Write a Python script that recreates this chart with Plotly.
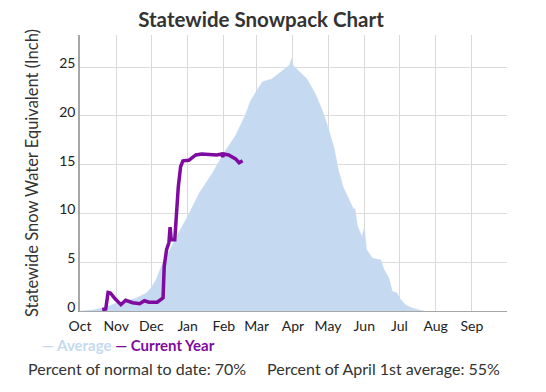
import plotly.graph_objects as go

# ---- data ----
avg_dates = ["2022-10-01", "2022-10-09", "2022-10-12", "2022-10-22", "2022-11-01", "2022-11-10",
             "2022-11-18", "2022-11-27", "2022-12-01", "2022-12-05", "2022-12-11", "2022-12-17",
             "2022-12-22", "2023-01-01", "2023-01-11", "2023-01-22", "2023-02-01", "2023-02-11",
             "2023-02-19", "2023-02-24", "2023-03-01", "2023-03-06", "2023-03-14", "2023-03-22",
             "2023-03-29", "2023-03-31", "2023-04-01", "2023-04-06", "2023-04-13", "2023-04-20",
             "2023-04-26", "2023-04-30", "2023-05-06", "2023-05-10", "2023-05-14", "2023-05-19",
             "2023-05-23", "2023-05-24", "2023-05-26", "2023-05-30", "2023-06-01", "2023-06-03",
             "2023-06-08", "2023-06-15", "2023-06-18", "2023-06-22", "2023-06-25", "2023-06-29",
             "2023-07-01", "2023-07-06", "2023-07-12", "2023-07-18", "2023-07-22"]
avg_values = [0, 0.05, 0.1, 0.35, 0.8, 1.05,
              1.3, 1.85, 2.4, 3.2, 5.0, 6.3,
              7.5, 9.7, 12.1, 14.1, 16.2, 18.0,
              20.0, 21.6, 22.6, 23.5, 23.8, 24.5,
              25.2, 25.9, 25.2, 24.6, 23.8, 22.3,
              20.6, 19.2, 16.8, 14.4, 12.7, 11.4,
              10.4, 10.5, 8.8, 7.6, 8.5, 6.3,
              5.4, 5.25, 4.2, 3.4, 2.0, 1.85,
              1.35, 0.65, 0.3, 0.1, 0]

cur_dates = ["2022-10-20", "2022-10-23", "2022-10-25", "2022-10-27", "2022-10-31", "2022-11-05",
             "2022-11-09", "2022-11-15", "2022-11-21", "2022-11-25", "2022-11-29", "2022-12-06",
             "2022-12-11", "2022-12-12", "2022-12-14", "2022-12-16", "2022-12-17", "2022-12-18",
             "2022-12-21", "2022-12-22", "2022-12-24", "2022-12-26", "2022-12-28", "2023-01-02",
             "2023-01-08", "2023-01-13", "2023-01-19", "2023-01-26", "2023-01-30", "2023-01-31",
             "2023-02-01", "2023-02-05", "2023-02-11", "2023-02-14", "2023-02-17"]
cur_values = [0.15, 0.2, 1.9, 1.85, 1.25, 0.65,
              1.1, 0.85, 0.75, 1.05, 0.9, 0.9,
              1.35, 4.6, 6.3, 7.0, 8.6, 7.3,
              7.3, 9.3, 12.7, 14.8, 15.4, 15.45,
              16.0, 16.1, 16.05, 16.0, 16.1, 15.8,
              16.1, 16.0, 15.6, 15.2, 15.4]

month_ticks = ["2022-10-01", "2022-11-01", "2022-12-01", "2023-01-01", "2023-02-01", "2023-03-01",
               "2023-04-01", "2023-05-01", "2023-06-01", "2023-07-01", "2023-08-01", "2023-09-01"]
month_labels = ["Oct", "Nov", "Dec", "Jan", "Feb", "Mar", "Apr", "May", "Jun", "Jul", "Aug", "Sep"]
y_ticks = [0, 5, 10, 15, 20, 25]

pct_normal = 70
pct_april = 55

# ---- styling ----
# page body has an 8px default margin: the figure is drawn 8px smaller and
# all target pixel positions (window coordinates) are shifted by OFF.
OFF = 8
W, H = 546 - OFF, 392 - OFF
PL, PR, PT, PB = 80, 507, 35, 311          # plot area edges in window pixels
ML, MR, MT, MB = PL - OFF, 546 - PR, PT - OFF, 392 - PB
AVG_COLOR = "#c5d9f1"
CUR_COLOR = "#7f0aa0"
FONT = "Lato"

def px_x(px):
    return (px - PL) / (PR - PL)

def px_y(py):
    return (PB - py) / (PB - PT)

fig = go.Figure()
fig.add_trace(go.Scatter(
    x=avg_dates, y=avg_values, name="Average", mode="lines",
    line=dict(color=AVG_COLOR, width=0.5), fill="tozeroy", fillcolor=AVG_COLOR))
fig.add_trace(go.Scatter(
    x=cur_dates, y=cur_values, name="Current Year", mode="lines",
    line=dict(color=CUR_COLOR, width=3.5)))

fig.update_layout(
    width=W, height=H,
    margin=dict(l=ML, r=MR, t=MT, b=MB),
    paper_bgcolor="white", plot_bgcolor="white",
    showlegend=False,
    font=dict(family=FONT, color="#222"),
    title=dict(text="Statewide Snowpack Chart", x=(261 - OFF) / W, xanchor="center", xref="container",
               y=1 - (20 - OFF) / H, yanchor="middle",
               font=dict(family=FONT, size=20.5, weight=700, color="#333")),
    xaxis=dict(type="date", range=["2022-10-01", "2023-10-01"],
               tickmode="array", tickvals=month_ticks, ticktext=month_labels,
               showgrid=True, gridcolor="#d9d9d9", gridwidth=1,
               showline=True, linecolor="#a6a6a6", linewidth=1,
               ticks="", tickfont=dict(size=14, color="#222"), zeroline=False,
               ticklabelstandoff=2),
    yaxis=dict(range=[0, 28.3], tickmode="array", tickvals=y_ticks,
               showgrid=True, gridcolor="#dcdcdc", gridwidth=1,
               showline=True, linecolor="#a6a6a6", linewidth=1.5,
               ticks="", tickfont=dict(size=14, color="#222"), zeroline=False,
               ticklabelshift=-4,
               title=dict(text="Statewide Snow Water Equivalent (Inch)",
                          font=dict(size=16.5, color="#333"), standoff=16)),
)

fig.add_annotation(
    xref="paper", yref="paper", x=px_x(40), y=px_y(345), xanchor="left", yanchor="middle",
    showarrow=False,
    text=(f"<b><span style='color:{AVG_COLOR}'>— Average</span> "
          f"<span style='color:{CUR_COLOR}'>— Current Year</span></b>"),
    font=dict(family=FONT, size=15))
fig.add_annotation(
    xref="paper", yref="paper", x=px_x(26), y=px_y(368), xanchor="left", yanchor="middle",
    showarrow=False, text=f"Percent of normal to date: {pct_normal}%",
    font=dict(family=FONT, size=16, color="#333"))
fig.add_annotation(
    xref="paper", yref="paper", x=px_x(265), y=px_y(368), xanchor="left", yanchor="middle",
    showarrow=False, text=f"Percent of April 1st average: {pct_april}%",
    font=dict(family=FONT, size=16, color="#333"))

fig.write_html("out.html")
